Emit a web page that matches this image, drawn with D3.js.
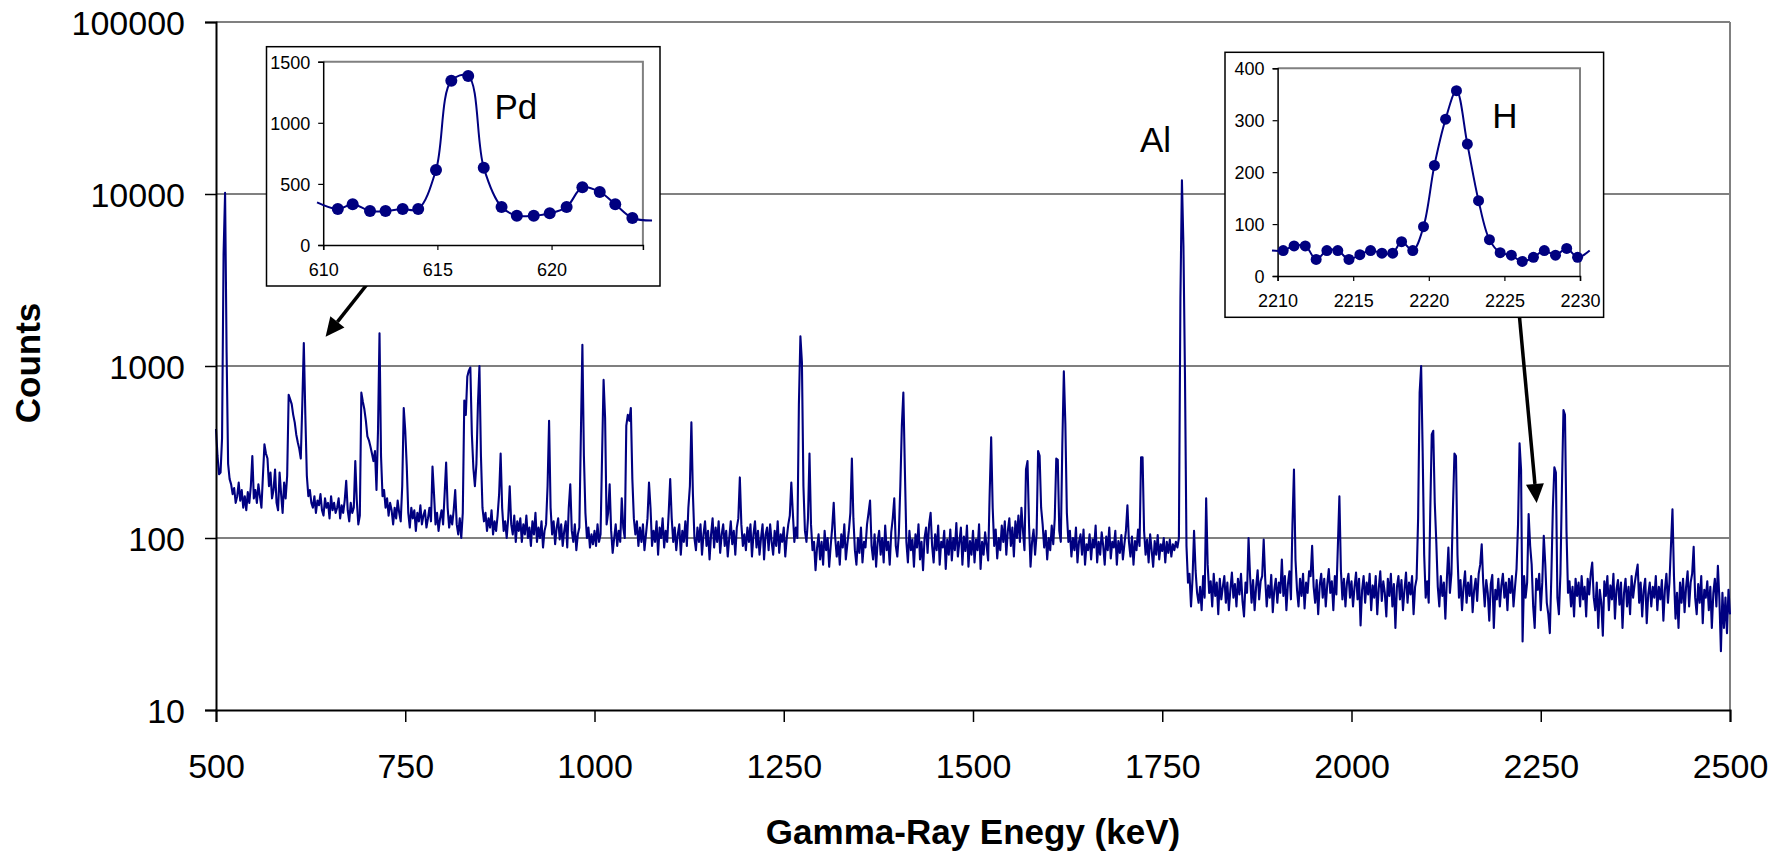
<!DOCTYPE html>
<meta charset="utf-8">
<script src="https://d3js.org/d3.v7.min.js"></script>
<style>
  body { margin: 0; background: #fff; }
  text { font-family: "Liberation Sans", Arial, sans-serif; }
</style>
<div id="chart"></div>
<script>
// main spectrum: counts per 2 keV channel, starting at 500 keV (one line = 20 keV)
var energyStart = 500, channelWidth = 2;
var counts = [
  430, 300, 235, 240, 380, 4500, 10150, 1200, 270, 220,
  205, 180, 195, 160, 175, 210, 165, 190, 150, 175,
  145, 185, 160, 200, 300, 170, 190, 160, 205, 175,
  150, 230, 350, 310, 290, 200, 240, 170, 190, 250,
  160, 145, 240, 180, 140, 210, 170, 230, 680, 640,
  600, 520, 470, 400, 360, 330, 290, 600, 1360, 520,
  230, 175, 190, 160, 150, 175, 140, 165, 155, 180,
  145, 135, 170, 150, 160, 130, 175, 145, 160, 140,
  150, 170, 130, 155, 140, 165, 215, 145, 125, 160,
  140, 150, 280, 165, 120, 135, 700, 620, 560, 480,
  390, 370, 340, 310, 280, 320, 190, 420, 1550, 300,
  175, 190, 150, 170, 135, 160, 145, 120, 150, 130,
  165, 140, 125, 200, 570, 420, 260, 140, 115, 150,
  130, 145, 110, 140, 125, 155, 120, 135, 145, 115,
  130, 150, 125, 260, 180, 120, 140, 110, 130, 145,
  120, 180, 275, 150, 115, 135, 120, 145, 190, 120,
  105, 130, 100, 140, 630, 520, 870, 940, 980, 400,
  255, 200, 270, 600, 1000, 300, 150, 125, 140, 110,
  130, 115, 145, 105, 125, 110, 135, 180, 310, 150,
  110, 125, 100, 130, 200, 120, 105, 135, 95, 125,
  110, 130, 95, 120, 105, 135, 100, 115, 90, 125,
  105, 140, 95, 115, 100, 125, 88, 110, 120, 200,
  480, 150, 105, 125, 92, 115, 130, 98, 120, 90,
  110, 125, 88, 150, 205, 110, 95, 120, 85, 105,
  115, 400, 1330, 300, 140, 100, 115, 88, 105, 92,
  110, 90, 120, 95, 105, 300, 830, 500, 120, 140,
  205, 110, 82, 100, 120, 90, 110, 95, 170, 115,
  100, 450, 520, 480, 570, 220, 130, 105, 125, 90,
  115, 95, 120, 85, 105, 130, 210, 150, 90, 110,
  95, 125, 80, 115, 100, 130, 88, 110, 95, 140,
  220, 130, 95, 115, 85, 105, 120, 80, 110, 95,
  125, 90, 150, 200, 470, 180, 100, 85, 115, 95,
  120, 80, 105, 125, 90, 110, 75, 105, 130, 88,
  115, 95, 125, 82, 105, 120, 90, 110, 78, 100,
  125, 92, 110, 80, 115, 130, 225, 120, 90, 105,
  85, 115, 95, 120, 78, 105, 125, 88, 110, 80,
  100, 120, 75, 105, 115, 85, 120, 95, 80, 110,
  90, 125, 82, 105, 95, 115, 78, 100, 120, 135,
  210, 140, 95, 115, 100, 600, 1490, 1050, 200, 110,
  95, 130, 310, 120, 85, 95, 65, 88, 105, 75,
  95, 70, 110, 85, 100, 68, 90, 115, 160, 100,
  78, 95, 70, 105, 88, 120, 75, 92, 110, 140,
  290, 130, 85, 70, 100, 82, 115, 72, 95, 88,
  120, 140, 165, 90, 75, 105, 68, 95, 110, 80,
  100, 72, 118, 85, 95, 70, 108, 130, 170, 90,
  78, 105, 200, 450, 700, 250, 95, 72, 110, 85,
  98, 68, 105, 88, 120, 75, 95, 65, 100, 115,
  82, 120, 140, 90, 72, 105, 85, 118, 70, 95,
  88, 110, 66, 98, 80, 112, 74, 100, 85, 122,
  78, 95, 115, 70, 102, 84, 118, 68, 96, 80,
  110, 72, 98, 85, 120, 66, 95, 80, 108, 90,
  74, 180, 385, 150, 90, 112, 76, 100, 85, 118,
  95, 125, 80, 110, 130, 90, 115, 78, 125, 100,
  135, 95, 150, 110, 85, 250, 280, 120, 68, 95,
  112, 80, 105, 320, 300, 150, 120, 88, 110, 75,
  100, 85, 118, 92, 130, 290, 285, 110, 95, 350,
  930, 460, 140, 95, 110, 78, 100, 85, 115, 72,
  95, 105, 80, 112, 70, 92, 85, 105, 75, 98,
  88, 118, 72, 95, 80, 108, 90, 70, 102, 85,
  115, 76, 95, 88, 110, 70, 96, 82, 104, 75,
  92, 110, 155, 95, 78, 102, 70, 96, 85, 112,
  90, 295, 295, 110, 80, 98, 72, 105, 85, 68,
  96, 80, 104, 75, 92, 84, 100, 72, 95, 82,
  98, 78, 92, 85, 95, 88, 100, 2500, 12000, 5000,
  900, 90, 55, 62, 40, 58, 110, 65, 48, 42,
  52, 38, 60, 45, 170, 70, 48, 56, 40, 62,
  46, 55, 36, 58, 44, 52, 60, 42, 55, 38,
  50, 63, 45, 54, 40, 58, 47, 62, 43, 35,
  55, 48, 100, 60, 42, 57, 38, 52, 65, 44,
  56, 60, 98, 58, 40, 53, 45, 61, 37, 50,
  58, 42, 55, 48, 75, 46, 60, 38, 54, 64,
  44, 120, 250, 75, 50, 40, 58, 46, 62, 39,
  55, 48, 64, 60, 90, 52, 42, 57, 36, 53,
  62, 45, 58, 40, 54, 66, 48, 56, 38, 60,
  47, 90, 175, 65, 44, 58, 40, 55, 62, 45,
  56, 40, 52, 63, 44, 58, 31, 50, 60, 42,
  55, 47, 62, 38, 53, 45, 60, 36, 51, 64,
  43, 56, 48, 35, 58, 46, 62, 40, 54, 30,
  52, 60, 44, 57, 38, 50, 63, 42, 55, 47,
  60, 36, 52, 58, 130, 700, 1000, 320, 80, 45,
  56, 42, 140, 400, 420, 160, 95, 52, 40, 60,
  46, 55, 34, 58, 88, 48, 62, 150, 310, 300,
  80, 45, 57, 38, 52, 64, 42, 55, 46, 60,
  37, 50, 58, 43, 62, 70, 92, 55, 40, 57,
  48, 33, 54, 61, 30, 50, 44, 58, 40, 53,
  62, 45, 55, 38, 58, 48, 60, 40, 52, 66,
  120, 355, 250, 25, 60, 45, 55, 138, 90, 70,
  40, 30, 58, 50, 62, 38, 55, 103, 70, 42,
  36, 28, 60, 150, 258, 240, 45, 36, 62, 200,
  555, 520, 110, 48, 56, 40, 52, 35, 58, 46,
  55, 40, 60, 44, 52, 35, 58, 47, 62, 72,
  45, 38, 55, 30, 50, 42, 27, 56, 46, 60,
  38, 53, 44, 62, 34, 50, 57, 41, 55, 30,
  48, 58, 40, 52, 36, 60, 45, 54, 62, 70,
  42, 55, 35, 50, 58, 32, 47, 55, 40, 52,
  45, 60, 38, 52, 44, 57, 33, 50, 62, 42,
  55, 90, 147, 60, 34, 48, 30, 55, 42, 58,
  37, 52, 64, 40, 55, 62, 89, 45, 36, 54,
  42, 60, 32, 50, 45, 56, 38, 52, 30, 48,
  58, 40, 69, 44, 22, 48, 30, 45, 28, 50,
  36
];
var xTicks = [500, 750, 1000, 1250, 1500, 1750, 2000, 2250, 2500];
var yTicks = [10, 100, 1000, 10000, 100000];

// Pd inset (616 keV line)
var pdEnergy = [609.73, 610.64, 611.29, 612.05, 612.73, 613.48, 614.16, 614.94, 615.61, 616.35, 617.03,
  617.81, 618.48, 619.22, 619.92, 620.66, 621.35, 622.11, 622.79, 623.54, 624.4];
var pdCounts = [349, 294, 333, 278, 278, 294, 294, 614, 1344, 1383, 633,
  311, 240, 240, 259, 311, 472, 434, 333, 221, 200];
var pdXTicks = [610, 615, 620];
var pdYTicks = [0, 500, 1000, 1500];

// H inset (2223 keV line)
var hEnergy = [2209.63, 2210.37, 2211.09, 2211.83, 2212.55, 2213.26, 2213.98, 2214.72, 2215.44, 2216.15,
  2216.9, 2217.61, 2218.2, 2218.94, 2219.65, 2220.37, 2221.11, 2221.83, 2222.55, 2223.29,
  2224.01, 2224.72, 2225.46, 2226.18, 2226.92, 2227.64, 2228.38, 2229.12, 2229.84, 2230.64];
var hCounts = [49, 49, 58, 58, 32, 49, 49, 32, 41, 49,
  44, 44, 66, 49, 95, 213, 302, 357, 254, 145,
  70, 45, 40, 28, 36, 49, 40, 53, 36, 49];
var hXTicks = [2210, 2215, 2220, 2225, 2230];
var hYTicks = [0, 100, 200, 300, 400];

// arrows, in main-chart data units
var arrows = [
  {from: [716.6, 3715], to: [644.8, 1480]},
  {from: [2219, 2656], to: [2244.6, 160]}
];

var width = 1777, height = 855;
var navy = "#000080";

var svg = d3.select("#chart").append("svg")
  .attr("width", width).attr("height", height);

var x = d3.scaleLinear().domain([500, 2500]).range([216, 1730]);
var y = d3.scaleLog().domain([10, 100000]).range([710, 22]);

// grid lines
svg.append("g").selectAll("line")
  .data(yTicks.filter(function(d){ return d > 10; }))
  .enter().append("line")
    .attr("x1", x(500)).attr("x2", x(2500))
    .attr("y1", function(d){ return y(d); })
    .attr("y2", function(d){ return y(d); })
    .attr("stroke", function(d){ return d == 1000 ? "#000" : "#808080"; })
    .attr("stroke-width", function(d){ return d == 1000 ? 1.2 : 2; });

// right border
svg.append("line")
  .attr("x1", x(2500)).attr("x2", x(2500))
  .attr("y1", y(100000)).attr("y2", y(10))
  .attr("stroke", "#808080").attr("stroke-width", 2);

// spectrum
var spectrum = counts.map(function(c, i){ return {e: energyStart + i * channelWidth, c: c}; });
svg.append("path")
  .datum(spectrum)
  .attr("fill", "none")
  .attr("stroke", navy)
  .attr("stroke-width", 2.1)
  .attr("stroke-linejoin", "round")
  .attr("d", d3.line().x(function(d){ return x(d.e); }).y(function(d){ return y(d.c); }));

// axes
var xAxis = svg.append("g").attr("transform", "translate(0," + y(10) + ")")
  .call(d3.axisBottom(x).tickValues(xTicks).tickSize(12).tickFormat(d3.format("d")));
var yAxis = svg.append("g").attr("transform", "translate(" + x(500) + ",0)")
  .call(d3.axisLeft(y).tickValues(yTicks).tickSize(11).tickFormat(d3.format("d")));
[xAxis, yAxis].forEach(function(a){
  a.select(".domain").attr("stroke", "#000").attr("stroke-width", 2);
  a.selectAll(".tick line").attr("stroke", "#000").attr("stroke-width", 1.5);
  a.selectAll(".tick text").attr("fill", "#000").style("font-size", "34px")
    .style("font-family", "'Liberation Sans', Arial, sans-serif");
});
xAxis.selectAll(".tick text").attr("y", 0).attr("dy", null).attr("transform", "translate(0,68)");
yAxis.selectAll(".tick text").attr("x", -31).attr("dy", "0.36em");

// axis titles
svg.append("text")
  .attr("x", (x(500) + x(2500)) / 2).attr("y", 844)
  .attr("text-anchor", "middle")
  .style("font-size", "35px").style("font-weight", "bold")
  .text("Gamma-Ray Enegy (keV)");
svg.append("text")
  .attr("transform", "translate(40,363) rotate(-90)")
  .attr("text-anchor", "middle")
  .style("font-size", "35px").style("font-weight", "bold")
  .text("Counts");

svg.append("text")
  .attr("x", x(1720.5)).attr("y", y(17540))
  .style("font-size", "35px")
  .text("Al");

// arrows
arrows.forEach(function(a){
  var x1 = x(a.from[0]), y1 = y(a.from[1]), x2 = x(a.to[0]), y2 = y(a.to[1]);
  var ang = Math.atan2(y2 - y1, x2 - x1), len = 19, half = 9;
  var bx = x2 - len * Math.cos(ang), by = y2 - len * Math.sin(ang);
  svg.append("line")
    .attr("x1", x1).attr("y1", y1).attr("x2", bx).attr("y2", by)
    .attr("stroke", "#000").attr("stroke-width", 3.5);
  var px = -Math.sin(ang) * half, py = Math.cos(ang) * half;
  svg.append("path")
    .attr("d", "M" + x2 + "," + y2 + "L" + (bx + px) + "," + (by + py) + "L" + (bx - px) + "," + (by - py) + "Z")
    .attr("fill", "#000");
});

// insets
function inset(cfg) {
  var g = svg.append("g");
  g.append("rect")
    .attr("x", cfg.box[0]).attr("y", cfg.box[1])
    .attr("width", cfg.box[2] - cfg.box[0]).attr("height", cfg.box[3] - cfg.box[1])
    .attr("fill", "#fff").attr("stroke", "#000").attr("stroke-width", 1.5);

  var ix = d3.scaleLinear().domain(cfg.xDomain).range([cfg.plot[0], cfg.plot[2]]);
  var iy = d3.scaleLinear().domain(cfg.yDomain).range([cfg.plot[3], cfg.plot[1]]);

  // grey frame on top and right
  g.append("path")
    .attr("d", "M" + cfg.plot[0] + "," + cfg.plot[1] + "H" + cfg.plot[2] + "V" + cfg.plot[3])
    .attr("fill", "none").attr("stroke", "#808080").attr("stroke-width", 2);

  var ax = g.append("g").attr("transform", "translate(0," + cfg.plot[3] + ")")
    .call(d3.axisBottom(ix).tickValues(cfg.xTicks).tickSize(5).tickFormat(d3.format("d")));
  var ay = g.append("g").attr("transform", "translate(" + cfg.plot[0] + ",0)")
    .call(d3.axisLeft(iy).tickValues(cfg.yTicks).tickSize(5).tickFormat(d3.format("d")));
  [ax, ay].forEach(function(a){
    a.select(".domain").attr("stroke", "#000").attr("stroke-width", 1.5);
    a.selectAll(".tick line").attr("stroke", "#000").attr("stroke-width", 1.2);
    a.selectAll(".tick text").attr("fill", "#000").style("font-size", "18px")
      .style("font-family", "'Liberation Sans', Arial, sans-serif");
  });
  ax.selectAll(".tick text").attr("y", 0).attr("dy", null).attr("transform", "translate(0,31)");
  ay.selectAll(".tick text").attr("x", -13).attr("dy", "0.36em");

  var pts = cfg.energy.map(function(e, i){ return {e: e, c: cfg.counts[i]}; });
  g.append("path")
    .datum(pts)
    .attr("fill", "none").attr("stroke", navy).attr("stroke-width", 2)
    .attr("d", d3.line().curve(d3.curveCatmullRom.alpha(0.5))
      .x(function(d){ return ix(d.e); }).y(function(d){ return iy(d.c); }));
  g.selectAll("circle")
    .data(pts.filter(function(d){ return d.e >= cfg.xDomain[0] && d.e <= cfg.xDomain[1]; }))
    .enter().append("circle")
      .attr("cx", function(d){ return ix(d.e); })
      .attr("cy", function(d){ return iy(d.c); })
      .attr("r", cfg.r)
      .attr("fill", navy);

  g.append("text")
    .attr("x", ix(cfg.label[1])).attr("y", iy(cfg.label[2]))
    .style("font-size", "35px")
    .text(cfg.label[0]);
}

inset({
  box: [266.5, 46.7, 660, 286], plot: [323.2, 61.7, 642.9, 245],
  xDomain: [610, 624], yDomain: [0, 1500], xTicks: pdXTicks, yTicks: pdYTicks,
  energy: pdEnergy, counts: pdCounts, r: 6, label: ["Pd", 617.5, 1031]
});
inset({
  box: [1225, 52.3, 1603.6, 317.3], plot: [1277.6, 68.3, 1580, 276],
  xDomain: [2210, 2230], yDomain: [0, 400], xTicks: hXTicks, yTicks: hYTicks,
  energy: hEnergy, counts: hCounts, r: 5.5, label: ["H", 2224.2, 285]
});
</script>
